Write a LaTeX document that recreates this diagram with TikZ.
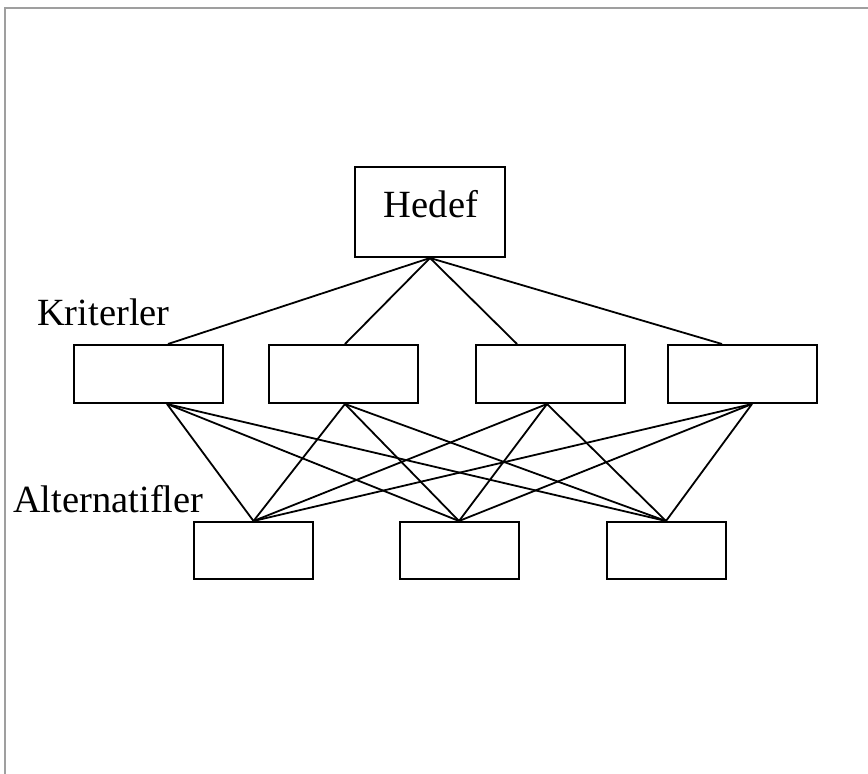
\documentclass[tikz,border=0pt]{standalone}
\usepackage{fontspec}
\setmainfont{Liberation Serif}
\begin{document}
\begin{tikzpicture}[x=1pt,y=-1pt,
  box/.style={draw,line width=2pt,inner sep=0pt,minimum height=58pt},
  kbox/.style={box,minimum width=149pt},
  abox/.style={box,minimum width=119pt,minimum height=57pt},
  link/.style={line width=1.8pt},
  lbl/.style={font=\fontsize{38.5}{40}\selectfont,inner sep=0pt,anchor=base west},
  frame/.style={draw=gray!75,line width=2pt}]
\useasboundingbox (0,0) rectangle (868,774);
\draw[frame] (5,774) -- (5,8) -- (868,8);

\node[box,minimum width=150pt,minimum height=90pt] (h) at (430,212) {};
\node[lbl,anchor=base] (ht) at (431,217) {Hedef};

\node[kbox] (k1) at (148.5,374) {};
\node[kbox] (k2) at (343,374) {};
\node[kbox] (k3) at (550,374) {};
\node[kbox] (k4) at (742.5,374) {};

\node[abox] (a1) at (253.5,550.5) {};
\node[abox] (a2) at (459,550.5) {};
\node[abox] (a3) at (666,550.5) {};

\node[lbl] (kl) at (37,325) {Kriterler};
\node[lbl] (al) at (13,512) {Alternatifler};

\coordinate (k1t) at ([xshift=19.5pt]k1.north);
\coordinate (k2t) at ([xshift=2pt]k2.north);
\coordinate (k3t) at ([xshift=-33pt]k3.north);
\coordinate (k4t) at ([xshift=-20.5pt]k4.north);
\coordinate (k1b) at ([xshift=18.5pt]k1.south);
\coordinate (k2b) at ([xshift=2pt]k2.south);
\coordinate (k3b) at ([xshift=-3pt]k3.south);
\coordinate (k4b) at ([xshift=9.5pt]k4.south);

\foreach \k in {k1t,k2t,k3t,k4t}
  \draw[link] (h.south) -- (\k);
\foreach \k in {k1b,k2b,k3b,k4b}
  \foreach \a in {a1,a2,a3}
    \draw[link] (\k) -- (\a.north);
\end{tikzpicture}
\end{document}
